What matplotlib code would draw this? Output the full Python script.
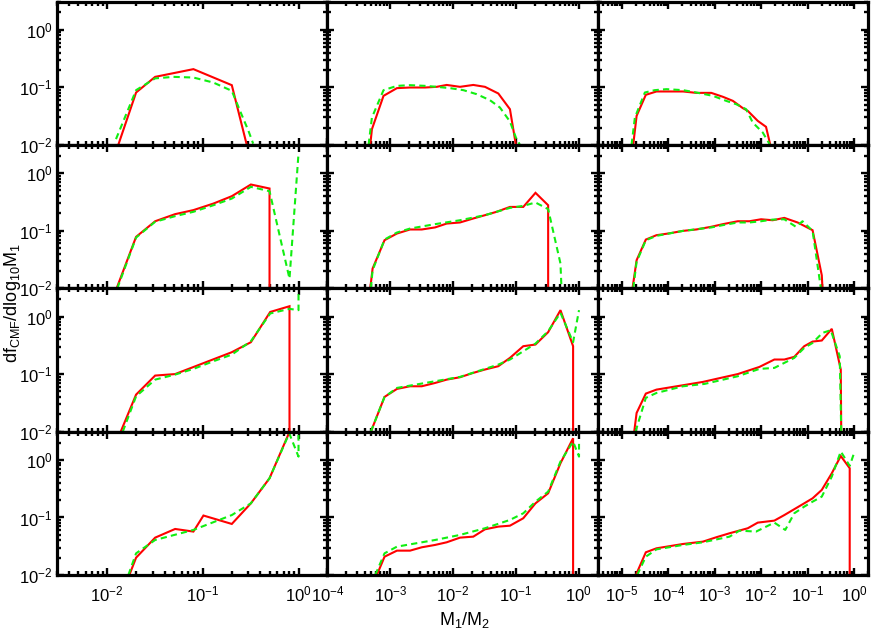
import numpy as np
import matplotlib
matplotlib.use("Agg")
import matplotlib.pyplot as plt
from matplotlib.ticker import LogLocator, NullFormatter, LogFormatterSciNotation

plt.rcParams['font.family'] = ['Liberation Sans', 'DejaVu Sans']
plt.rcParams['mathtext.fontset'] = 'custom'
plt.rcParams['mathtext.rm'] = 'Liberation Sans'
plt.rcParams['mathtext.it'] = 'Liberation Sans:italic'
plt.rcParams['mathtext.default'] = 'regular'

# axis ranges (one x range per column, same y range everywhere)
col_xlim = [(3e-3, 2.0), (1e-4, 2.0), (3e-6, 2.0)]
ylim = (1e-2, 3.1)

# ---- row 1 ----
r1c1_red_x = [0.0131, 0.0201, 0.0318, 0.0798, 0.201, 0.288]
r1c1_red_y = [0.01, 0.0813, 0.152, 0.207, 0.109, 0.01]
r1c1_grn_x = [0.0124, 0.0201, 0.0318, 0.0493, 0.0798, 0.129, 0.201, 0.245, 0.300, 0.336]
r1c1_grn_y = [0.0126, 0.0893, 0.143, 0.152, 0.148, 0.121, 0.0869, 0.039, 0.0175, 0.0105]

r1c2_red_x = [4.82e-4, 5.12e-4, 7.83e-4, 1.28e-3, 2.07e-3, 3.6e-3, 5.51e-3, 7.92e-3, 0.0129, 0.021, 0.0322, 0.0525, 0.0804, 0.1]
r1c2_red_y = [0.01, 0.0187, 0.0711, 0.0968, 0.0993, 0.0993, 0.102, 0.110, 0.102, 0.110, 0.102, 0.0782, 0.0417, 0.01]
r1c2_grn_x = [4.53e-4, 5.12e-4, 7.83e-4, 1.28e-3, 2.07e-3, 3.6e-3, 5.51e-3, 8.95e-3, 0.0146, 0.0238, 0.0386, 0.0557, 0.0804, 0.1, 0.116]
r1c2_grn_y = [0.01, 0.0298, 0.0893, 0.106, 0.109, 0.106, 0.102, 0.0968, 0.0893, 0.076, 0.0598, 0.0446, 0.0255, 0.0134, 0.01]

r1c3_red_x = [1.75e-5, 2.07e-5, 3.27e-5, 5.55e-5, 9.9e-5, 2.07e-4, 4.0e-4, 8.4e-4, 1.5e-3, 2.45e-3, 4.02e-3, 5.14e-3, 8.43e-3, 0.0127, 0.0157]
r1c3_red_y = [0.01, 0.0319, 0.0741, 0.0847, 0.0847, 0.0847, 0.0801, 0.0801, 0.0684, 0.0582, 0.0435, 0.039, 0.0261, 0.0206, 0.01]
r1c3_grn_x = [1.61e-5, 1.9e-5, 3.12e-5, 5.1e-5, 9.1e-5, 2.07e-4, 4.0e-4, 9.12e-4, 1.76e-3, 2.89e-3, 4.73e-3, 6.58e-3, 0.0108, 0.0155]
r1c3_grn_y = [0.01, 0.0298, 0.0813, 0.0893, 0.0929, 0.0893, 0.0813, 0.0711, 0.0582, 0.0509, 0.0417, 0.0244, 0.0164, 0.01]

# ---- row 2 ----
r2c1_red_x = [0.0126, 0.0201, 0.0318, 0.0514, 0.0798, 0.129, 0.201, 0.318, 0.498, 0.498]
r2c1_red_y = [0.01, 0.0782, 0.146, 0.194, 0.228, 0.296, 0.398, 0.635, 0.541, 0.001]
r2c1_grn_x = [0.0128, 0.0201, 0.0318, 0.0514, 0.0798, 0.129, 0.201, 0.318, 0.498, 0.805, 1.0]
r2c1_grn_y = [0.01, 0.076, 0.143, 0.179, 0.213, 0.277, 0.362, 0.578, 0.486, 0.0147, 2.2]

r2c2_red_x = [4.82e-4, 5.25e-4, 8.13e-4, 1.28e-3, 2.07e-3, 3.18e-3, 5.18e-3, 7.92e-3, 0.0129, 0.021, 0.0322, 0.0493, 0.0804, 0.131, 0.205, 0.326, 0.326]
r2c2_red_y = [0.01, 0.022, 0.0684, 0.0893, 0.105, 0.105, 0.114, 0.133, 0.139, 0.163, 0.186, 0.213, 0.259, 0.259, 0.455, 0.277, 0.001]
r2c2_grn_x = [4.93e-4, 5.25e-4, 8.13e-4, 1.28e-3, 2.07e-3, 5.18e-3, 0.0129, 0.0322, 0.0493, 0.0804, 0.131, 0.205, 0.326, 0.512, 0.531]
r2c2_grn_y = [0.01, 0.0206, 0.0701, 0.0929, 0.109, 0.13, 0.152, 0.186, 0.213, 0.249, 0.27, 0.309, 0.237, 0.0269, 0.01]

r2c3_red_x = [1.69e-5, 2.07e-5, 3.27e-5, 5.55e-5, 9.9e-5, 2.07e-4, 4.0e-4, 8.4e-4, 1.5e-3, 3.13e-3, 5.58e-3, 9.93e-3, 0.0177, 0.0315, 0.0608, 0.128, 0.202, 0.209]
r2c3_red_y = [0.01, 0.0307, 0.0701, 0.0836, 0.0893, 0.0993, 0.105, 0.117, 0.13, 0.146, 0.146, 0.158, 0.152, 0.167, 0.139, 0.102, 0.0168, 0.01]
r2c3_grn_x = [1.75e-5, 2.07e-5, 3.27e-5, 5.55e-5, 2.07e-4, 8.4e-4, 1.5e-3, 3.13e-3, 5.58e-3, 9.93e-3, 0.0177, 0.0315, 0.056, 0.0778, 0.128, 0.193]
r2c3_grn_y = [0.01, 0.0287, 0.0684, 0.0813, 0.0993, 0.114, 0.125, 0.139, 0.139, 0.146, 0.156, 0.158, 0.117, 0.146, 0.0993, 0.01]

# ---- row 3 ----
r3c1_red_x = [0.0139, 0.0201, 0.0318, 0.0514, 0.201, 0.318, 0.506, 0.805, 0.805]
r3c1_red_y = [0.01, 0.044, 0.0942, 0.1, 0.24, 0.358, 1.2, 1.51, 0.001]
r3c1_grn_x = [0.0146, 0.0201, 0.0318, 0.0514, 0.0798, 0.129, 0.201, 0.318, 0.506, 0.805, 1.0, 1.0]
r3c1_grn_y = [0.01, 0.0411, 0.0801, 0.098, 0.123, 0.167, 0.218, 0.372, 1.13, 1.36, 1.29, 5.0]

r3c2_red_x = [4.93e-4, 8.13e-4, 1.28e-3, 2.07e-3, 3.18e-3, 5.18e-3, 7.92e-3, 0.0129, 0.021, 0.0322, 0.0525, 0.0804, 0.131, 0.205, 0.326, 0.512, 0.813, 0.813]
r3c2_red_y = [0.01, 0.0401, 0.0552, 0.0614, 0.0614, 0.0701, 0.0801, 0.0881, 0.105, 0.12, 0.137, 0.191, 0.305, 0.326, 0.535, 1.29, 0.305, 0.001]
r3c2_grn_x = [4.93e-4, 8.13e-4, 1.28e-3, 2.07e-3, 5.18e-3, 0.0129, 0.0322, 0.0525, 0.0804, 0.131, 0.205, 0.326, 0.512, 0.813, 1.01]
r3c2_grn_y = [0.01, 0.0401, 0.0574, 0.0631, 0.075, 0.0893, 0.123, 0.146, 0.179, 0.249, 0.339, 0.556, 1.16, 0.358, 1.29]

r3c3_red_x = [1.84e-5, 2.07e-5, 3.27e-5, 5.55e-5, 2.07e-4, 5.56e-4, 1.07e-3, 3.13e-3, 9.14e-3, 0.0192, 0.0315, 0.0515, 0.0845, 0.128, 0.202, 0.332, 0.518, 0.53]
r3c3_red_y = [0.01, 0.0211, 0.0458, 0.0537, 0.064, 0.0731, 0.0824, 0.1, 0.133, 0.179, 0.179, 0.199, 0.305, 0.367, 0.383, 0.611, 0.12, 0.01]
r3c3_grn_x = [1.96e-5, 3.27e-5, 5.55e-5, 2.07e-4, 6.04e-4, 3.13e-3, 9.14e-3, 0.0192, 0.0515, 0.0845, 0.128, 0.209, 0.315, 0.492, 0.53]
r3c3_grn_y = [0.01, 0.0386, 0.047, 0.0614, 0.0675, 0.0917, 0.123, 0.128, 0.191, 0.285, 0.348, 0.52, 0.578, 0.204, 0.01]

# ---- row 4 ----
r4c1_red_x = [0.0171, 0.0201, 0.0318, 0.0514, 0.0798, 0.1016, 0.201, 0.318, 0.498, 0.8]
r4c1_red_y = [0.01, 0.02, 0.0446, 0.0631, 0.0568, 0.108, 0.0771, 0.176, 0.48, 3.0]
r4c1_grn_x = [0.0167, 0.0201, 0.0318, 0.0798, 0.201, 0.318, 0.498, 0.8, 1.0, 1.0]
r4c1_grn_y = [0.01, 0.0238, 0.0406, 0.0607, 0.11, 0.176, 0.48, 2.9, 1.14, 2.72]

r4c2_red_x = [6.14e-4, 8.13e-4, 1.28e-3, 2.07e-3, 3.18e-3, 5.18e-3, 7.92e-3, 0.0129, 0.021, 0.0322, 0.0525, 0.0804, 0.131, 0.205, 0.326, 0.512, 0.813, 0.813]
r4c2_red_y = [0.01, 0.0208, 0.0265, 0.0265, 0.0303, 0.0333, 0.037, 0.0446, 0.0464, 0.0622, 0.0693, 0.0719, 0.0968, 0.176, 0.263, 0.875, 2.38, 0.001]
r4c2_grn_x = [5.78e-4, 8.13e-4, 1.28e-3, 5.18e-3, 0.0129, 0.0322, 0.0804, 0.131, 0.205, 0.326, 0.512, 0.813, 1.01, 1.01]
r4c2_grn_y = [0.01, 0.0238, 0.0311, 0.0406, 0.0497, 0.0649, 0.0906, 0.118, 0.188, 0.281, 0.935, 2.08, 1.14, 1.9]

r4c3_red_x = [2.0e-5, 3.27e-5, 5.55e-5, 2.07e-4, 5.56e-4, 1.07e-3, 2.08e-3, 5.14e-3, 8.43e-3, 0.0192, 0.0315, 0.0515, 0.0845, 0.128, 0.202, 0.332, 0.518, 0.807, 0.807]
r4c3_red_y = [0.01, 0.0248, 0.0291, 0.0346, 0.038, 0.0452, 0.0531, 0.0649, 0.0813, 0.0881, 0.11, 0.139, 0.176, 0.215, 0.301, 0.586, 1.17, 0.716, 0.001]
r4c3_grn_x = [2.13e-5, 3.27e-5, 5.55e-5, 2.07e-4, 5.56e-4, 2.08e-3, 3.4e-3, 7.76e-3, 0.0192, 0.033, 0.0515, 0.0845, 0.128, 0.202, 0.332, 0.518, 0.807, 1.0]
r4c3_grn_y = [0.01, 0.0208, 0.0279, 0.0333, 0.037, 0.0464, 0.059, 0.0568, 0.0813, 0.0607, 0.118, 0.154, 0.188, 0.23, 0.513, 1.4, 0.787, 1.31]

panels = [
    [(r1c1_red_x, r1c1_red_y, r1c1_grn_x, r1c1_grn_y),
     (r1c2_red_x, r1c2_red_y, r1c2_grn_x, r1c2_grn_y),
     (r1c3_red_x, r1c3_red_y, r1c3_grn_x, r1c3_grn_y)],
    [(r2c1_red_x, r2c1_red_y, r2c1_grn_x, r2c1_grn_y),
     (r2c2_red_x, r2c2_red_y, r2c2_grn_x, r2c2_grn_y),
     (r2c3_red_x, r2c3_red_y, r2c3_grn_x, r2c3_grn_y)],
    [(r3c1_red_x, r3c1_red_y, r3c1_grn_x, r3c1_grn_y),
     (r3c2_red_x, r3c2_red_y, r3c2_grn_x, r3c2_grn_y),
     (r3c3_red_x, r3c3_red_y, r3c3_grn_x, r3c3_grn_y)],
    [(r4c1_red_x, r4c1_red_y, r4c1_grn_x, r4c1_grn_y),
     (r4c2_red_x, r4c2_red_y, r4c2_grn_x, r4c2_grn_y),
     (r4c3_red_x, r4c3_red_y, r4c3_grn_x, r4c3_grn_y)],
]

fig, axes = plt.subplots(4, 3, figsize=(8.72, 6.31), dpi=100)
fig.subplots_adjust(left=57 / 872, right=868 / 872, bottom=1 - 575 / 631,
                    top=1 - 1.5 / 631, wspace=0, hspace=0)

for r in range(4):
    for c in range(3):
        ax = axes[r, c]
        rx, ry, gx, gy = panels[r][c]
        ax.plot(rx, ry, color='#ff0000', lw=1.5, solid_joinstyle='miter')
        ax.plot(gx, gy, color='#11ee11', lw=1.5, dashes=(3, 2))
        ax.set_xscale('log')
        ax.set_yscale('log')
        ax.set_xlim(*col_xlim[c])
        ax.set_ylim(*ylim)

        ax.xaxis.set_major_locator(LogLocator(base=10, numticks=20))
        ax.xaxis.set_minor_locator(LogLocator(base=10, subs=np.arange(2, 10), numticks=100))
        ax.yaxis.set_major_locator(LogLocator(base=10, numticks=20))
        ax.yaxis.set_minor_locator(LogLocator(base=10, subs=np.arange(2, 10), numticks=100))
        ax.xaxis.set_minor_formatter(NullFormatter())
        ax.yaxis.set_minor_formatter(NullFormatter())
        ax.xaxis.set_major_formatter(LogFormatterSciNotation())
        ax.yaxis.set_major_formatter(LogFormatterSciNotation())

        ax.tick_params(which='both', direction='in', top=True, right=True,
                       width=1.7, labelsize=12)
        ax.tick_params(which='major', length=5)
        ax.tick_params(which='minor', length=2.8)
        ax.tick_params(axis='x', pad=7)
        ax.tick_params(axis='y', pad=3)
        if c != 0:
            ax.tick_params(axis='y', labelleft=False)
        if r != 3:
            ax.tick_params(axis='x', labelbottom=False)
        for s in ax.spines.values():
            s.set_linewidth(2.3)

fig.text(0.014, 0.52, 'df$_{CMF}$/dlog$_{10}$M$_1$', rotation=90,
         ha='center', va='center', fontsize=13)
fig.text(0.533, 0.017, 'M$_1$/M$_2$', ha='center', va='center', fontsize=13)

fig.savefig('out.png', dpi=100)
